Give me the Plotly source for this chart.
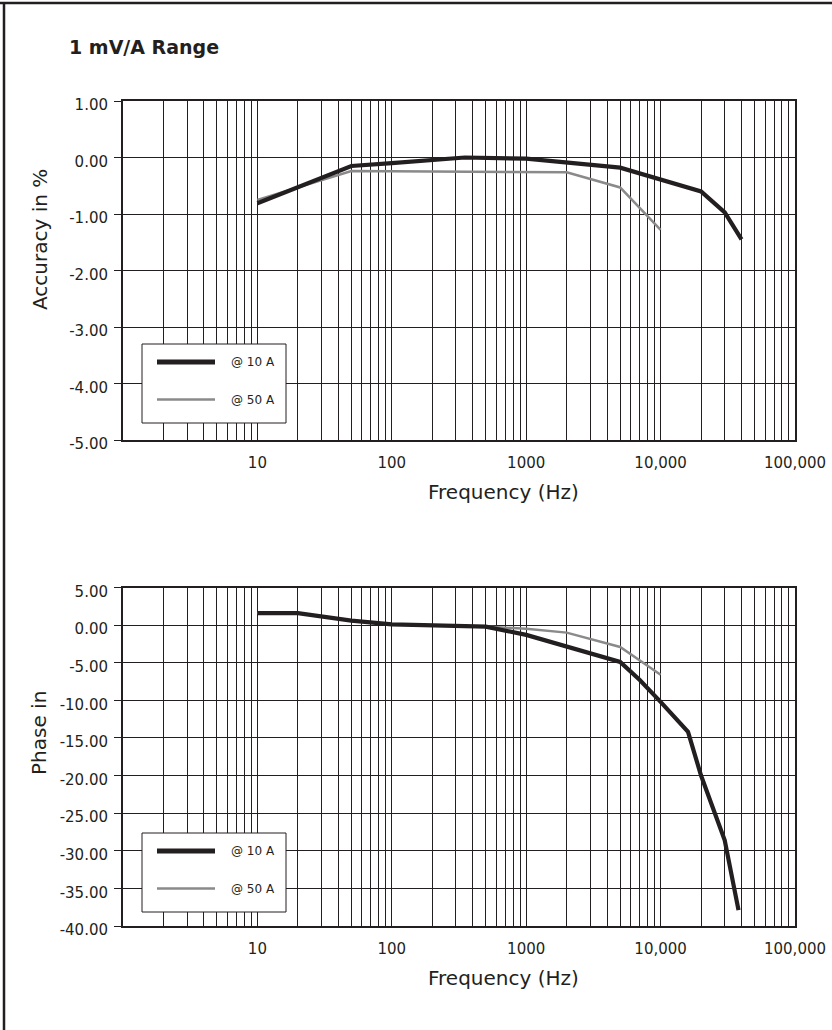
import plotly.graph_objects as go

W, H = 832, 1030

# ---------------- data ----------------
acc_freq_10a = [10, 50, 100, 350, 1000, 5000, 20000, 30000, 40000]
acc_10a = [-0.81, -0.15, -0.10, 0.00, -0.02, -0.18, -0.60, -0.97, -1.45]
acc_freq_50a = [10, 50, 2000, 5000, 10000]
acc_50a = [-0.75, -0.24, -0.26, -0.53, -1.28]

ph_freq_10a = [10, 20, 50, 100, 500, 1000, 5000, 7000, 10000, 16000, 20000, 30000, 38000]
ph_10a = [1.6, 1.6, 0.6, 0.1, -0.2, -1.3, -4.9, -7.3, -10.2, -14.2, -20.0, -28.6, -37.9]
ph_freq_50a = [10, 20, 50, 100, 500, 1000, 2000, 5000, 10000]
ph_50a = [1.6, 1.6, 0.6, 0.1, -0.2, -0.5, -1.0, -2.9, -6.6]

x_tickvals = [10, 100, 1000, 10000, 100000]
x_ticktext = ["10", "100", "1000", "10,000", "100,000"]
acc_tickvals = [1, 0, -1, -2, -3, -4, -5]
ph_tickvals = [5, 0, -5, -10, -15, -20, -25, -30, -35, -40]
series_names = ["@ 10 A", "@ 50 A"]
title_text = "1 mV/A Range"
acc_title = "Accuracy in %"
ph_title = "Phase in"
freq_title = "Frequency (Hz)"

# ---------------- style ----------------
INK = "#231f20"
GRAY = "#8a8a8a"
FONT = "DejaVu Sans"


def px(x):
    return x / W


def py(y):
    return 1 - y / H


minor_vals = [m * 10 ** k for k in range(5) for m in range(2, 10)]

fig = go.Figure()
fig.add_trace(go.Scatter(x=acc_freq_50a, y=acc_50a, mode="lines", name=series_names[1],
                         line=dict(color=GRAY, width=2.5), xaxis="x", yaxis="y"))
fig.add_trace(go.Scatter(x=acc_freq_10a, y=acc_10a, mode="lines", name=series_names[0],
                         line=dict(color=INK, width=4.2), xaxis="x", yaxis="y"))
fig.add_trace(go.Scatter(x=ph_freq_50a, y=ph_50a, mode="lines", name=series_names[1],
                         line=dict(color=GRAY, width=2.5), xaxis="x2", yaxis="y2"))
fig.add_trace(go.Scatter(x=ph_freq_10a, y=ph_10a, mode="lines", name=series_names[0],
                         line=dict(color=INK, width=4.2), xaxis="x2", yaxis="y2"))


def xaxis_cfg(anchor):
    return dict(
        type="log", range=[0, 5], domain=[px(123), px(795)], anchor=anchor,
        tickmode="array", tickvals=x_tickvals, ticktext=x_ticktext,
        showgrid=True, gridcolor=INK, gridwidth=1,
        minor=dict(tickmode="array", tickvals=minor_vals, showgrid=True,
                   gridcolor=INK, gridwidth=1, ticks=""),
        ticks="", showline=True, linecolor=INK, linewidth=1.5, mirror=True,
        tickfont=dict(family=FONT, size=15, color=INK),
        ticklabelstandoff=8, zeroline=False, fixedrange=True,
    )


def yaxis_cfg(anchor, rng, vals, dom):
    return dict(
        range=rng, domain=dom, anchor=anchor,
        tickmode="array", tickvals=vals, ticktext=[f"{v:.2f}" for v in vals],
        showgrid=True, gridcolor=INK, gridwidth=1,
        ticks="outside", ticklen=7, tickcolor=INK, tickwidth=1,
        showline=True, linecolor=INK, linewidth=2, mirror=True,
        tickfont=dict(family=FONT, size=15, color=INK),
        ticklabelshift=4, ticklabelstandoff=3, zeroline=False, fixedrange=True,
    )


shapes = [
    # outer frame (top and left only)
    dict(type="line", xref="paper", yref="paper", x0=px(0), x1=px(832), y0=py(3), y1=py(3),
         line=dict(color=INK, width=2.5)),
    dict(type="line", xref="paper", yref="paper", x0=px(4), x1=px(4), y0=py(2), y1=py(1030),
         line=dict(color=INK, width=2.5)),
]
annotations = [
    dict(text=f"<b>{title_text}</b>", xref="paper", yref="paper", x=px(67), y=py(47),
         xanchor="left", yanchor="middle", showarrow=False,
         font=dict(family=FONT, size=19, color=INK)),
    dict(text=acc_title, xref="paper", yref="paper", x=px(40), y=py(240), textangle=-90,
         xanchor="center", yanchor="middle", showarrow=False,
         font=dict(family=FONT, size=20, color=INK)),
    dict(text=ph_title, xref="paper", yref="paper", x=px(39), y=py(733), textangle=-90,
         xanchor="center", yanchor="middle", showarrow=False,
         font=dict(family=FONT, size=20, color=INK)),
    dict(text=freq_title, xref="paper", yref="paper", x=px(503), y=py(492),
         xanchor="center", yanchor="middle", showarrow=False,
         font=dict(family=FONT, size=20, color=INK)),
    dict(text=freq_title, xref="paper", yref="paper", x=px(503), y=py(978),
         xanchor="center", yanchor="middle", showarrow=False,
         font=dict(family=FONT, size=20, color=INK)),
]

# legend boxes (one per panel)
for top in (344, 833):
    shapes.append(dict(type="rect", xref="paper", yref="paper", x0=px(142), x1=px(286),
                       y0=py(top), y1=py(top + 79), fillcolor="white",
                       line=dict(color=INK, width=1), layer="above"))
    for i, (name, col, wid) in enumerate([(series_names[0], INK, 5), (series_names[1], GRAY, 2.5)]):
        yy = top + 18 + i * 37.5
        shapes.append(dict(type="line", xref="paper", yref="paper", x0=px(157), x1=px(215),
                           y0=py(yy), y1=py(yy), line=dict(color=col, width=wid), layer="above"))
        annotations.append(dict(text=name, xref="paper", yref="paper", x=px(229), y=py(yy),
                                xanchor="left", yanchor="middle", showarrow=False,
                                font=dict(family=FONT, size=12, color=INK)))

fig.update_layout(
    width=W, height=H, margin=dict(l=0, r=0, t=0, b=0, autoexpand=False),
    paper_bgcolor="white", plot_bgcolor="white", showlegend=False,
    xaxis=xaxis_cfg("y"),
    yaxis=yaxis_cfg("x", [-5, 1], acc_tickvals, [py(440), py(101)]),
    xaxis2=xaxis_cfg("y2"),
    yaxis2=yaxis_cfg("x2", [-40, 5], ph_tickvals, [py(926), py(587.5)]),
    shapes=shapes, annotations=annotations,
)

fig.write_html("out.html", config={"displayModeBar": False},
               post_script="document.body.style.margin='0';document.body.style.overflow='hidden';")
